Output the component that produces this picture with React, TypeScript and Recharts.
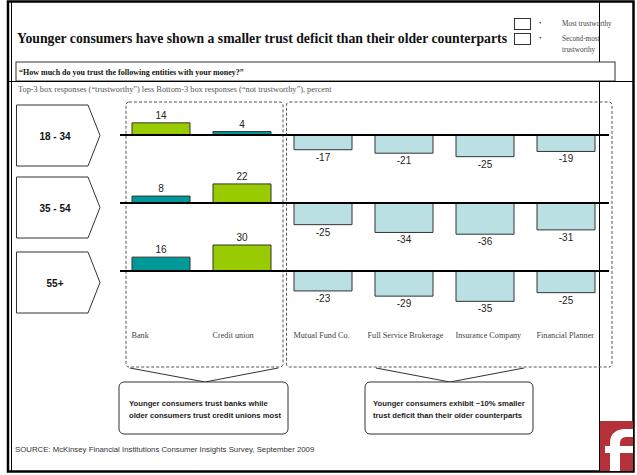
import React from "react";
import { BarChart, Bar, XAxis, YAxis, ReferenceLine, LabelList, Cell } from "recharts";

const categories = [
  "Bank",
  "Credit union",
  "Mutual Fund Co.",
  "Full Service Brokerage",
  "Insurance Company",
  "Financial Planner",
];
const ageGroups = ["18 - 34", "35 - 54", "55+"];
const age18to34 = [14, 4, -17, -21, -25, -19];
const age35to54 = [8, 22, -25, -34, -36, -31];
const age55plus = [16, 30, -23, -29, -35, -25];
const legendLabels = ["Most trustworthy", "Second-most", "trustworthy"];

const SERIF = "'Liberation Serif', 'DejaVu Serif', serif";
const SANS = "'Liberation Sans', Arial, sans-serif";

const GREEN = "#99cc00";
const TEAL = "#009999";
const PALE = "#bbe0e3";

// baseline y of each row on the page, pentagon tops
const baselines = [135, 203, 271];
const pentTops = [105, 177, 252];
const HALF = 52; // plot half height -> 0.867 px per point

const toRows = (vals: number[]) => {
  const top = Math.max(vals[0], vals[1]);
  return categories.map((name, i) => ({
    name,
    value: vals[i],
    fill: vals[i] < 0 ? PALE : vals[i] === top ? GREEN : TEAL,
  }));
};

const rowSeries = [age18to34, age35to54, age55plus].map(toRows);

function ValueLabel(props: any) {
  const { x, y, width, height, value } = props;
  const top = Math.min(y, y + height);
  const bottom = Math.max(y, y + height);
  const ty = value >= 0 ? top - 4 : bottom + 11;
  return (
    <text x={x + width / 2} y={ty} textAnchor="middle" fontFamily={SANS} fontSize={10} fill="#222">
      {value}
    </text>
  );
}

function CategoryTick(props: any) {
  const { x, y, payload } = props;
  const label: string = payload.value;
  const wide = label.length > 20;
  return (
    <text
      x={wide ? x + 2 : x - 29}
      y={y}
      dy={15}
      textAnchor={wide ? "middle" : "start"}
      fontFamily={SERIF}
      fontSize={8.2}
      fill="#444"
    >
      {label}
    </text>
  );
}

function RowChart({ data, index }: { data: any[]; index: number }) {
  const last = index === rowSeries.length - 1;
  const plotH = HALF * 2;
  return (
    <div style={{ position: "absolute", left: 120, top: baselines[index] - HALF }}>
      <BarChart
        width={489}
        height={plotH + (last ? 30 : 0)}
        data={data}
        margin={{ top: 0, right: 0, bottom: 0, left: 0 }}
        style={{ overflow: "visible" }}
      >
        <XAxis
          dataKey="name"
          hide={!last}
          height={30}
          axisLine={false}
          tickLine={false}
          tickSize={0}
          tickMargin={0}
          interval={0}
          padding={{ left: 0, right: 3 }}
          tick={<CategoryTick />}
        />
        <YAxis hide domain={[-60, 60]} />
        <ReferenceLine y={0} stroke="#000" strokeWidth={2} />
        <Bar dataKey="value" barSize={58} stroke="#333" strokeWidth={1} isAnimationActive={false}>
          {data.map((d, i) => (
            <Cell key={i} fill={d.fill} />
          ))}
          <LabelList dataKey="value" content={<ValueLabel />} />
        </Bar>
      </BarChart>
    </div>
  );
}

export default function App() {
  return (
    <div
      style={{
        position: "absolute",
        left: 0,
        top: 0,
        width: 637,
        height: 475,
        background: "#fff",
        overflow: "hidden",
      }}
    >
      <svg width={637} height={475} style={{ position: "absolute", left: 0, top: 0 }}>
        {/* frame */}
        <rect x={8} y={1.5} width={625.5} height={470} fill="none" stroke="#000" strokeWidth={2.5} />
        <line x1={11.5} y1={2} x2={11.5} y2={471} stroke="#000" strokeWidth={1} />
        <line x1={599.5} y1={2} x2={599.5} y2={471} stroke="#000" strokeWidth={1} />

        {/* title */}
        <text x={17} y={43} fontFamily={SERIF} fontWeight="bold" fontSize={14} fill="#111" textLength={490} lengthAdjust="spacingAndGlyphs">
          Younger consumers have shown a smaller trust deficit than their older counterparts
        </text>

        {/* legend */}
        <rect x={514.5} y={18.5} width={16} height={11} fill="#fff" stroke="#333" />
        <rect x={514.5} y={33.5} width={16} height={11} fill="#fff" stroke="#333" />
        <text x={539} y={25} fontFamily={SERIF} fontSize={7} fill="#333">•</text>
        <text x={539} y={40} fontFamily={SERIF} fontSize={7} fill="#333">•</text>
        <text x={562} y={26} fontFamily={SERIF} fontSize={7.2} fill="#444">{legendLabels[0]}</text>
        <text x={562} y={41} fontFamily={SERIF} fontSize={7.2} fill="#444">{legendLabels[1]}</text>
        <text x={562} y={52} fontFamily={SERIF} fontSize={7.2} fill="#444">{legendLabels[2]}</text>

        {/* question box */}
        <rect x={16} y={62} width={599} height={19} fill="#fff" stroke="#333" strokeWidth={1} />
        <line x1={8} y1={81.5} x2={634} y2={81.5} stroke="#000" strokeWidth={1} />
        <text x={19} y={75} fontFamily={SERIF} fontWeight="bold" fontSize={8} fill="#111">
          “How much do you trust the following entities with your money?”
        </text>
        <text x={18} y={92} fontFamily={SERIF} fontSize={8.3} fill="#555">
          Top-3 box responses (“trustworthy”) less Bottom-3 box responses (“not trustworthy”), percent
        </text>

        {/* row labels */}
        {ageGroups.map((g, i) => {
          const t = pentTops[i];
          const b = t + 61;
          const m = (t + b) / 2;
          return (
            <g key={g}>
              <polygon
                points={`16.5,${t} 88,${t} 100,${m} 88,${b} 16.5,${b}`}
                fill="#fff"
                stroke="#333"
                strokeWidth={1}
              />
              <text x={55} y={m + 4} textAnchor="middle" fontFamily={SANS} fontWeight="bold" fontSize={10} fill="#111">
                {g}
              </text>
            </g>
          );
        })}

        {/* dashed groups */}
        <rect x={126} y={102} width={157} height={265} rx={3} fill="none" stroke="#555" strokeDasharray="3 2" />
        <rect x={286.5} y={102} width={325.5} height={265} rx={3} fill="none" stroke="#555" strokeDasharray="3 2" />

        {/* callouts */}
        <polyline points="130,368 205,382 278,368" fill="none" stroke="#333" />
        <polyline points="376,368 450,382 524,368" fill="none" stroke="#333" />
        <rect x={119} y={382} width={169} height={52} rx={5} fill="#fff" stroke="#333" />
        <rect x={365} y={382} width={168} height={52} rx={5} fill="#fff" stroke="#333" />
        <text fontFamily={SANS} fontWeight="bold" fontSize={7.7} fill="#222">
          <tspan x={129} y={406}>Younger consumers trust banks while</tspan>
          <tspan x={129} y={418}>older consumers trust credit unions most</tspan>
        </text>
        <text fontFamily={SANS} fontWeight="bold" fontSize={7.7} fill="#222">
          <tspan x={373} y={406}>Younger consumers exhibit ~10% smaller</tspan>
          <tspan x={373} y={418}>trust deficit than their older counterparts</tspan>
        </text>

        {/* source */}
        <text x={15} y={452} fontFamily={SANS} fontSize={7.8} fill="#333">
          SOURCE: McKinsey Financial Institutions Consumer Insights Survey, September 2009
        </text>

        {/* logo */}
        <rect x={600} y={421} width={33} height={50} fill="#b5313a" />
        <path
          d="M610,471 L610,443 C610,434 616,429 625,429 L633,429 L633,437 L627,437 C622,437 620,439 620,444 L620,471 Z"
          fill="#fff"
        />
        <rect x={605} y={446} width={28} height={7} fill="#fff" />
      </svg>

      {rowSeries.map((data, i) => (
        <RowChart key={i} data={data} index={i} />
      ))}
    </div>
  );
}
